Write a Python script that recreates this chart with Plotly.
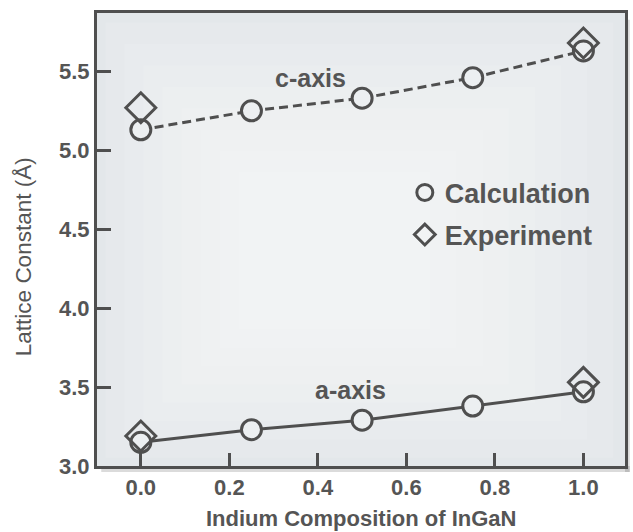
import plotly.graph_objects as go

# ---- data ----
composition = [0.0, 0.25, 0.5, 0.75, 1.0]
c_calc = [5.13, 5.25, 5.33, 5.46, 5.63]
a_calc = [3.15, 3.23, 3.29, 3.38, 3.47]
exp_composition = [0.0, 1.0]
c_exp = [5.27, 5.68]
a_exp = [3.19, 3.53]
x_ticks = [0.0, 0.2, 0.4, 0.6, 0.8, 1.0]
x_ticklabels = ["0.0", "0.2", "0.4", "0.6", "0.8", "1.0"]
y_ticks = [3.0, 3.5, 4.0, 4.5, 5.0, 5.5]
y_ticklabels = ["3.0", "3.5", "4.0", "4.5", "5.0", "5.5"]

INK = "#4f4f4f"
TEXT = "#555555"
FILL = "#eceff1"
FONT = "Liberation Sans, Arial"

fig = go.Figure()

fig.add_trace(go.Scatter(
    x=composition, y=c_calc, mode="lines+markers", showlegend=False,
    line=dict(color=INK, width=3, dash="9px,5px"),
    marker=dict(symbol="circle", size=20, color=FILL, line=dict(color=INK, width=3)),
))
fig.add_trace(go.Scatter(
    x=composition, y=a_calc, mode="lines+markers", showlegend=False,
    line=dict(color=INK, width=3),
    marker=dict(symbol="circle", size=20, color=FILL, line=dict(color=INK, width=3)),
))
fig.add_trace(go.Scatter(
    x=exp_composition, y=c_exp, mode="markers", showlegend=False,
    marker=dict(symbol="diamond-open", size=23, color=INK, line=dict(color=INK, width=3)),
))
fig.add_trace(go.Scatter(
    x=exp_composition, y=a_exp, mode="markers", showlegend=False,
    marker=dict(symbol="diamond-open", size=23, color=INK, line=dict(color=INK, width=3)),
))
# legend entries
fig.add_trace(go.Scatter(
    x=[None], y=[None], mode="markers", name="Calculation", legend="legend",
    marker=dict(symbol="circle-open", size=18, color=INK, line=dict(color=INK, width=3)),
))
fig.add_trace(go.Scatter(
    x=[None], y=[None], mode="markers", name="Experiment", legend="legend2",
    marker=dict(symbol="diamond-open", size=20, color=INK, line=dict(color=INK, width=3)),
))

shapes = []
# drop shadow strips of the frame (bottom and right, outside the plot area)
shapes.append(dict(type="rect", xref="paper", yref="paper", x0=0.008, x1=1.009, y0=-0.013, y1=0.0,
                   fillcolor="rgba(0,0,0,0.14)", line=dict(width=0), layer="below"))
shapes.append(dict(type="rect", xref="paper", yref="paper", x0=1.0, x1=1.009, y0=-0.013, y1=0.985,
                   fillcolor="rgba(0,0,0,0.14)", line=dict(width=0), layer="below"))
# soft radial-like background lightening
for k in range(8):
    inset = 0.02 + k * 0.045
    shapes.append(dict(type="rect", xref="x domain", yref="y domain",
                       x0=inset * 0.8, x1=1 - inset * 1.1, y0=inset * 0.9, y1=1 - inset * 1.05,
                       fillcolor="rgba(255,255,255,0.11)", line=dict(width=0), layer="below"))

legend_font = dict(size=27, family=FONT, color=TEXT, weight="bold")

fig.update_layout(
    width=633, height=532,
    margin=dict(l=97, r=5, t=13, b=66),
    paper_bgcolor="white",
    plot_bgcolor="#e3e7ea",
    shapes=shapes,
    font=dict(family=FONT, color=TEXT),
    legend=dict(x=0.583, y=0.657, xanchor="left", yanchor="top",
                bgcolor="rgba(0,0,0,0)", font=legend_font, itemwidth=30),
    legend2=dict(x=0.583, y=0.564, xanchor="left", yanchor="top",
                 bgcolor="rgba(0,0,0,0)", font=legend_font, itemwidth=30),
    annotations=[
        dict(x=0.383, y=5.46, xref="x", yref="y", text="c-axis", showarrow=False,
             font=dict(size=25, family=FONT, color=TEXT, weight="bold")),
        dict(x=0.473, y=3.48, xref="x", yref="y", text="a-axis", showarrow=False,
             font=dict(size=25, family=FONT, color=TEXT, weight="bold")),
        dict(x=0, y=0.461, xref="paper", yref="paper", xshift=-74, text="Lattice Constant (Å)",
             textangle=-90, showarrow=False, xanchor="center", yanchor="middle",
             font=dict(size=22.5, family=FONT, color=TEXT)),
        dict(x=0.5, y=0, xref="paper", yref="paper", yshift=-52, text="Indium Composition of InGaN",
             showarrow=False, xanchor="center", yanchor="middle",
             font=dict(size=22, family=FONT, color=TEXT, weight="bold")),
    ],
)

fig.update_xaxes(
    range=[-0.099, 1.094], tickvals=x_ticks, ticktext=x_ticklabels,
    ticks="inside", ticklen=13, tickwidth=3, tickcolor=INK,
    showline=True, linewidth=3, linecolor=INK, mirror=True,
    showgrid=False, zeroline=False,
    tickfont=dict(size=22, family=FONT, color=TEXT, weight="bold"),
)
fig.update_yaxes(
    range=[3.0, 5.87], tickvals=y_ticks, ticktext=y_ticklabels,
    ticks="inside", ticklen=14, tickwidth=3, tickcolor=INK,
    showline=True, linewidth=3, linecolor=INK, mirror=True,
    showgrid=False, zeroline=False,
    tickfont=dict(size=22, family=FONT, color=TEXT, weight="bold"),
)

fig.write_html("out.html")
